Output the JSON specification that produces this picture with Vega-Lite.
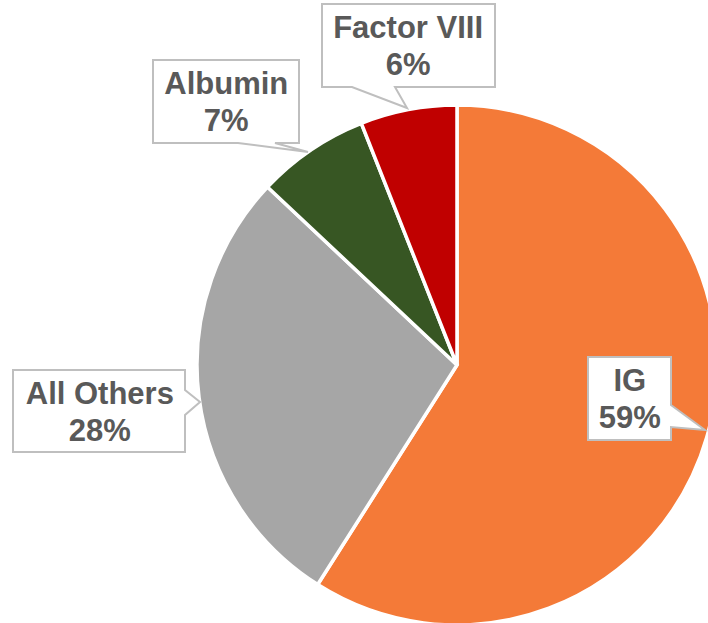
{
  "$schema": "https://vega.github.io/schema/vega-lite/v6.json",
  "autosize": "none",
  "width": 502,
  "height": 516,
  "padding": {"left": 206, "top": 107, "right": 0, "bottom": 0},
  "background": "white",
  "config": {"view": {"stroke": null}},
  "data": {
    "values": [
      {"category": "IG", "value": 0.59},
      {"category": "All Others", "value": 0.28},
      {"category": "Albumin", "value": 0.07},
      {"category": "Factor VIII", "value": 0.06}
    ]
  },
  "layer": [
    {
      "mark": {"type": "arc", "outerRadius": 260, "stroke": "white", "strokeWidth": 3.5},
      "encoding": {
        "theta": {"field": "value", "type": "quantitative", "stack": true},
        "order": {"field": "value", "type": "quantitative", "sort": "descending"},
        "color": {
          "field": "category",
          "type": "nominal",
          "scale": {
            "domain": ["IG", "All Others", "Albumin", "Factor VIII"],
            "range": ["#F47A38", "#A6A6A6", "#375623", "#C00000"]
          },
          "legend": null
        }
      }
    },
    {
      "mark": {"type": "point", "filled": true, "fill": "white", "stroke": "#BFBFBF", "strokeWidth": 2, "opacity": 1, "size": 4},
      "encoding": {
        "shape": {
          "field": "category",
          "type": "nominal",
          "scale": {
            "domain": ["IG", "All Others", "Albumin", "Factor VIII"],
            "range": [
              "M131,-8H214V40L248,65L214,62V75H131Z",
              "M-444,5H-272V25L-257,37L-272,50V87H-444Z",
              "M-304,-305H-158V-222H-182L-149,-213L-219,-222H-304Z",
              "M-135,-361H38V-278H-62L-50,-257L-105,-278H-135Z"
            ]
          },
          "legend": null
        }
      }
    },
    {
      "mark": {
        "type": "text",
        "font": "Liberation Sans",
        "fontWeight": "bold",
        "fontSize": 31,
        "color": "#595959",
        "align": "center",
        "baseline": "alphabetic",
        "radius": {"expr": "datum.category === 'IG' ? 180 : datum.category === 'All Others' ? 360 : datum.category === 'Albumin' ? 350 : 325"},
        "dx": {"expr": "datum.category === 'Albumin' ? -34 : datum.category === 'Factor VIII' ? 12 : 0"},
        "dy": {"expr": "datum.category === 'IG' ? -24 : datum.category === 'All Others' ? -6.5 : datum.category === 'Albumin' ? 18 : -7.5"}
      },
      "encoding": {
        "theta": {"field": "value", "type": "quantitative", "stack": true},
        "order": {"field": "value", "type": "quantitative", "sort": "descending"},
        "text": {"field": "category", "type": "nominal"}
      }
    },
    {
      "mark": {
        "type": "text",
        "font": "Liberation Sans",
        "fontWeight": "bold",
        "fontSize": 31,
        "color": "#595959",
        "align": "center",
        "baseline": "alphabetic",
        "radius": {"expr": "datum.category === 'IG' ? 180 : datum.category === 'All Others' ? 360 : datum.category === 'Albumin' ? 350 : 325"},
        "dx": {"expr": "datum.category === 'Albumin' ? -34 : datum.category === 'Factor VIII' ? 12 : 0"},
        "dy": {"expr": "datum.category === 'IG' ? 13 : datum.category === 'All Others' ? 30.5 : datum.category === 'Albumin' ? 55 : 29.5"}
      },
      "encoding": {
        "theta": {"field": "value", "type": "quantitative", "stack": true},
        "order": {"field": "value", "type": "quantitative", "sort": "descending"},
        "text": {"field": "value", "type": "quantitative", "format": ".0%"}
      }
    }
  ]
}
